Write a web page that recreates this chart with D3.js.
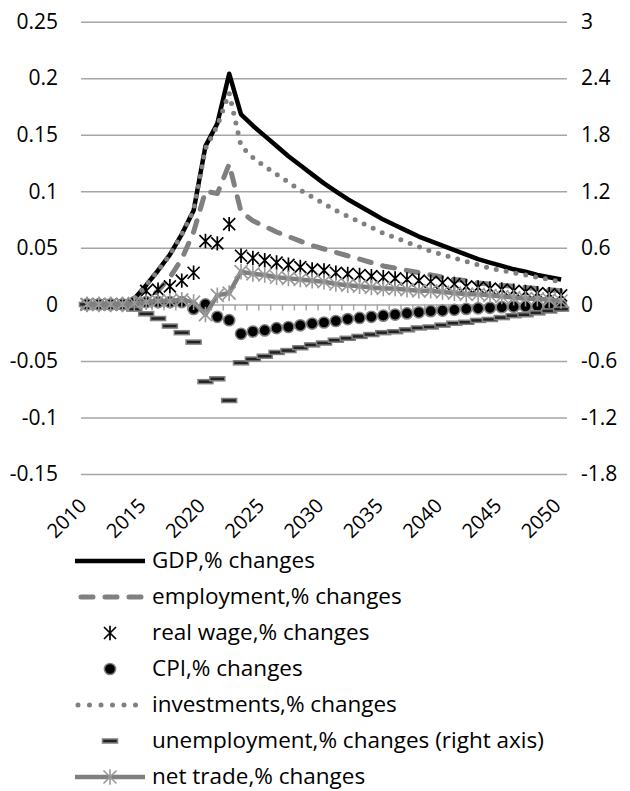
<!DOCTYPE html>
<meta charset="utf-8">
<head>
    <title>Macro effects, % changes 2010-2050</title>
    <style>
        body { margin: 0; background: #fff; }
        text { font-family: "Open Sans", Lato, sans-serif; fill: #000; }
    </style>
</head>
<body>
    <div id="chart"></div>
    <script src="https://d3js.org/d3.v7.min.js"></script>
    <script>

        var years = [2010, 2011, 2012, 2013, 2014, 2015, 2016, 2017, 2018, 2019,
                     2020, 2021, 2022, 2023, 2024, 2025, 2026, 2027, 2028, 2029,
                     2030, 2031, 2032, 2033, 2034, 2035, 2036, 2037, 2038, 2039,
                     2040, 2041, 2042, 2043, 2044, 2045, 2046, 2047, 2048, 2049, 2050];

        var yearLabels = [2010, 2015, 2020, 2025, 2030, 2035, 2040, 2045, 2050];
        var leftTicks = [0.25, 0.2, 0.15, 0.1, 0.05, 0, -0.05, -0.1, -0.15];
        var rightTicks = [3, 2.4, 1.8, 1.2, 0.6, 0, -0.6, -1.2, -1.8];

        var gdp = [0, 0, 0, 0, 0.005, 0.017, 0.030, 0.044, 0.062, 0.083,
                   0.140, 0.160, 0.204, 0.168, 0.158, 0.149, 0.140, 0.131, 0.123, 0.115,
                   0.107, 0.100, 0.093, 0.087, 0.081, 0.075, 0.070, 0.065, 0.060, 0.056,
                   0.052, 0.048, 0.044, 0.040, 0.037, 0.034, 0.031, 0.029, 0.026, 0.024, 0.022];

        var employment = [0, 0, 0, 0, 0, 0.004, 0.012, 0.024, 0.040, 0.064,
                          0.100, 0.098, 0.124, 0.082, 0.074, 0.069, 0.064, 0.060, 0.056, 0.052,
                          0.049, 0.046, 0.043, 0.040, 0.037, 0.034, 0.032, 0.030, 0.028, 0.026,
                          0.024, 0.022, 0.021, 0.019, 0.018, 0.017, 0.016, 0.015, 0.014, 0.013, 0.012];

        var realWage = [0, 0, 0, 0, 0, 0.012, 0.013, 0.016, 0.021, 0.028,
                        0.056, 0.054, 0.071, 0.043, 0.041, 0.039, 0.037, 0.035, 0.033, 0.031,
                        0.030, 0.028, 0.027, 0.026, 0.025, 0.024, 0.023, 0.022, 0.021, 0.020,
                        0.019, 0.018, 0.016, 0.015, 0.014, 0.013, 0.012, 0.011, 0.010, 0.009, 0.008];

        var cpi = [0, 0, 0, 0, 0.002, 0.002, 0.002, 0.002, 0.002, -0.004,
                   0.000, -0.011, -0.014, -0.026, -0.024, -0.023, -0.021, -0.020, -0.0185, -0.017,
                   -0.016, -0.0147, -0.013, -0.012, -0.011, -0.010, -0.009, -0.008, -0.007, -0.006,
                   -0.0055, -0.0048, -0.004, -0.0035, -0.003, -0.0025, -0.002, -0.0018, -0.0015, -0.0012, -0.001];

        var investments = [0, 0, 0, 0, 0.005, 0.017, 0.030, 0.044, 0.062, 0.083,
                           0.138, 0.158, 0.187, 0.140, 0.130, 0.122, 0.115, 0.108, 0.101, 0.095,
                           0.089, 0.083, 0.078, 0.073, 0.068, 0.063, 0.059, 0.055, 0.051, 0.047,
                           0.044, 0.041, 0.038, 0.035, 0.032, 0.030, 0.028, 0.026, 0.024, 0.022, 0.020];

        // right axis
        var unemployment = [0, 0, 0, 0, -0.05, -0.10, -0.15, -0.23, -0.30, -0.40,
                            -0.82, -0.79, -1.02, -0.62, -0.58, -0.55, -0.51, -0.49, -0.46, -0.43,
                            -0.41, -0.38, -0.36, -0.34, -0.32, -0.30, -0.29, -0.27, -0.25, -0.24,
                            -0.22, -0.20, -0.19, -0.17, -0.16, -0.14, -0.12, -0.11, -0.09, -0.07, -0.05];

        var netTrade = [0, 0, 0, 0, 0.001, 0.002, 0.003, 0.003, 0.004, 0.002,
                        -0.009, 0.008, 0.010, 0.029, 0.027, 0.026, 0.024, 0.023, 0.022, 0.021,
                        0.020, 0.018, 0.017, 0.016, 0.015, 0.014, 0.014, 0.013, 0.012, 0.012,
                        0.011, 0.010, 0.009, 0.009, 0.008, 0.007, 0.006, 0.005, 0.005, 0.004, 0.003];

        var width = 630;
        var height = 791;
        var plotL = 81, plotR = 567, plotT = 21.7, plotB = 474;
        var gray = '#808080';
        var gridColor = '#a6a6a6';
        var fontSize = '21px';

        var svg = d3.select('#chart')
          .append('svg')
          .attr('width', width)
          .attr('height', height);

        var x = d3.scaleBand()
          .domain(years)
          .range([plotL, plotR]);
        var cx = function(i) { return x(years[i]) + x.bandwidth() / 2; };

        var y = d3.scaleLinear().domain([-0.15, 0.25]).range([plotB, plotT]);
        var y2 = d3.scaleLinear().domain([-1.8, 3]).range([plotB, plotT]);

        // gridlines + left labels
        var yAxisL = d3.axisLeft(y)
          .tickValues(leftTicks)
          .tickSize(-(plotR - plotL))
          .tickPadding(23)
          .tickFormat(function(d) { return String(+d.toFixed(2)); });
        var gL = svg.append('g')
          .attr('transform', 'translate(' + plotL + ',0)')
          .call(yAxisL);
        gL.select('.domain').remove();
        gL.selectAll('line').attr('stroke', gridColor).attr('stroke-width', 1.5);
        gL.selectAll('text').style('font-size', fontSize).attr('fill', '#000');

        var yAxisR = d3.axisRight(y2)
          .tickValues(rightTicks)
          .tickSize(0)
          .tickPadding(14)
          .tickFormat(function(d) { return String(+d.toFixed(1)); });
        var gR = svg.append('g')
          .attr('transform', 'translate(' + plotR + ',0)')
          .call(yAxisR);
        gR.select('.domain').remove();
        gR.selectAll('text').style('font-size', fontSize).attr('fill', '#000');
        svg.selectAll('g[font-family]').attr('font-family', null);

        // category axis at zero
        var zeroY = y(0);
        var boundaries = years.map(function(d) { return x(d); }).concat([plotR]);
        svg.append('g').selectAll('line')
          .data(boundaries)
          .enter()
          .append('line')
          .attr('x1', function(d) { return d; })
          .attr('x2', function(d) { return d; })
          .attr('y1', zeroY)
          .attr('y2', zeroY + 6)
          .attr('stroke', gridColor)
          .attr('stroke-width', 1.5);

        svg.append('g').selectAll('text')
          .data(yearLabels)
          .enter()
          .append('text')
          .attr('transform', function(d) {
              return 'translate(' + (x(d) + x.bandwidth() / 2 - 4) + ',' + (plotB + 28) + ') rotate(-45)';
          })
          .attr('text-anchor', 'end')
          .attr('dy', '0.35em')
          .style('font-size', '20px')
          .text(function(d) { return d; });

        // series
        var lineL = d3.line()
          .x(function(d, i) { return cx(i); })
          .y(function(d) { return y(d); });

        function asterisk(h) {
            return 'M' + (-h) + ',' + (-h) + 'L' + h + ',' + h +
                   'M' + (-h) + ',' + h + 'L' + h + ',' + (-h) +
                   'M0,' + (-h * 1.2) + 'L0,' + (h * 1.2);
        }

        var plot = svg.append('g');

        plot.append('path')
          .datum(gdp)
          .attr('d', lineL)
          .attr('fill', 'none')
          .attr('stroke', '#000')
          .attr('stroke-width', 4.5)
          .attr('stroke-linejoin', 'round');

        plot.append('path')
          .datum(employment)
          .attr('d', lineL)
          .attr('fill', 'none')
          .attr('stroke', gray)
          .attr('stroke-width', 5)
          .attr('stroke-dasharray', '12,12')
          .attr('stroke-linecap', 'round')
          .attr('stroke-linejoin', 'round');

        plot.append('g').selectAll('path')
          .data(realWage)
          .enter()
          .append('path')
          .attr('transform', function(d, i) { return 'translate(' + cx(i) + ',' + y(d) + ')'; })
          .attr('d', asterisk(6))
          .attr('fill', 'none')
          .attr('stroke', '#000')
          .attr('stroke-width', 1.7);

        plot.append('g').selectAll('circle')
          .data(cpi)
          .enter()
          .append('circle')
          .attr('cx', function(d, i) { return cx(i); })
          .attr('cy', function(d) { return y(d); })
          .attr('r', 5.6)
          .attr('fill', '#000')
          .attr('stroke', gray)
          .attr('stroke-width', 1.5);

        plot.append('path')
          .datum(investments)
          .attr('d', lineL)
          .attr('fill', 'none')
          .attr('stroke', gray)
          .attr('stroke-width', 5)
          .attr('stroke-dasharray', '0,10')
          .attr('stroke-linecap', 'round');

        plot.append('g').selectAll('rect')
          .data(unemployment)
          .enter()
          .append('rect')
          .attr('x', function(d, i) { return cx(i) - 7.5; })
          .attr('y', function(d) { return y2(d) - 2; })
          .attr('width', 15)
          .attr('height', 4)
          .attr('fill', '#222')
          .attr('stroke', gray)
          .attr('stroke-width', 1.5);

        plot.append('path')
          .datum(netTrade)
          .attr('d', lineL)
          .attr('fill', 'none')
          .attr('stroke', gray)
          .attr('stroke-width', 4.5)
          .attr('stroke-linejoin', 'round');

        plot.append('g').selectAll('path')
          .data(netTrade)
          .enter()
          .append('path')
          .attr('transform', function(d, i) { return 'translate(' + cx(i) + ',' + y(d) + ')'; })
          .attr('d', asterisk(6.5))
          .attr('fill', 'none')
          .attr('stroke', '#999')
          .attr('stroke-width', 1.6);

        // legend
        var legendNames = ['GDP,% changes', 'employment,% changes', 'real wage,% changes',
                           'CPI,% changes', 'investments,% changes',
                           'unemployment,% changes (right axis)', 'net trade,% changes'];
        var lx1 = 75, lx2 = 145, lmid = 110;
        var ly = function(i) { return 561 + i * 36; };

        var legend = svg.append('g');
        legend.selectAll('text')
          .data(legendNames)
          .enter()
          .append('text')
          .attr('x', 152)
          .attr('y', function(d, i) { return ly(i); })
          .attr('dy', '0.32em')
          .style('font-size', '22.5px')
          .text(function(d) { return d; });

        legend.append('line')
          .attr('x1', lx1).attr('x2', lx2).attr('y1', ly(0)).attr('y2', ly(0))
          .attr('stroke', '#000').attr('stroke-width', 4.5);
        legend.append('line')
          .attr('x1', lx1 + 6).attr('x2', lx2).attr('y1', ly(1)).attr('y2', ly(1))
          .attr('stroke', gray).attr('stroke-width', 5)
          .attr('stroke-dasharray', '12,12').attr('stroke-linecap', 'round');
        legend.append('path')
          .attr('transform', 'translate(' + lmid + ',' + ly(2) + ')')
          .attr('d', asterisk(6))
          .attr('fill', 'none').attr('stroke', '#000').attr('stroke-width', 1.7);
        legend.append('circle')
          .attr('cx', lmid).attr('cy', ly(3)).attr('r', 5.6)
          .attr('fill', '#000').attr('stroke', gray).attr('stroke-width', 1.5);
        legend.append('line')
          .attr('x1', lx1 + 3).attr('x2', lx2).attr('y1', ly(4)).attr('y2', ly(4))
          .attr('stroke', gray).attr('stroke-width', 5)
          .attr('stroke-dasharray', '0,11.5').attr('stroke-linecap', 'round');
        legend.append('rect')
          .attr('x', lmid - 7.5).attr('y', ly(5) - 2).attr('width', 15).attr('height', 4)
          .attr('fill', '#222').attr('stroke', gray).attr('stroke-width', 1.5);
        legend.append('line')
          .attr('x1', lx1).attr('x2', lx2).attr('y1', ly(6)).attr('y2', ly(6))
          .attr('stroke', gray).attr('stroke-width', 4.5);
        legend.append('path')
          .attr('transform', 'translate(' + lmid + ',' + ly(6) + ')')
          .attr('d', asterisk(6.5))
          .attr('fill', 'none').attr('stroke', '#999').attr('stroke-width', 1.6);

  </script>
</body>
